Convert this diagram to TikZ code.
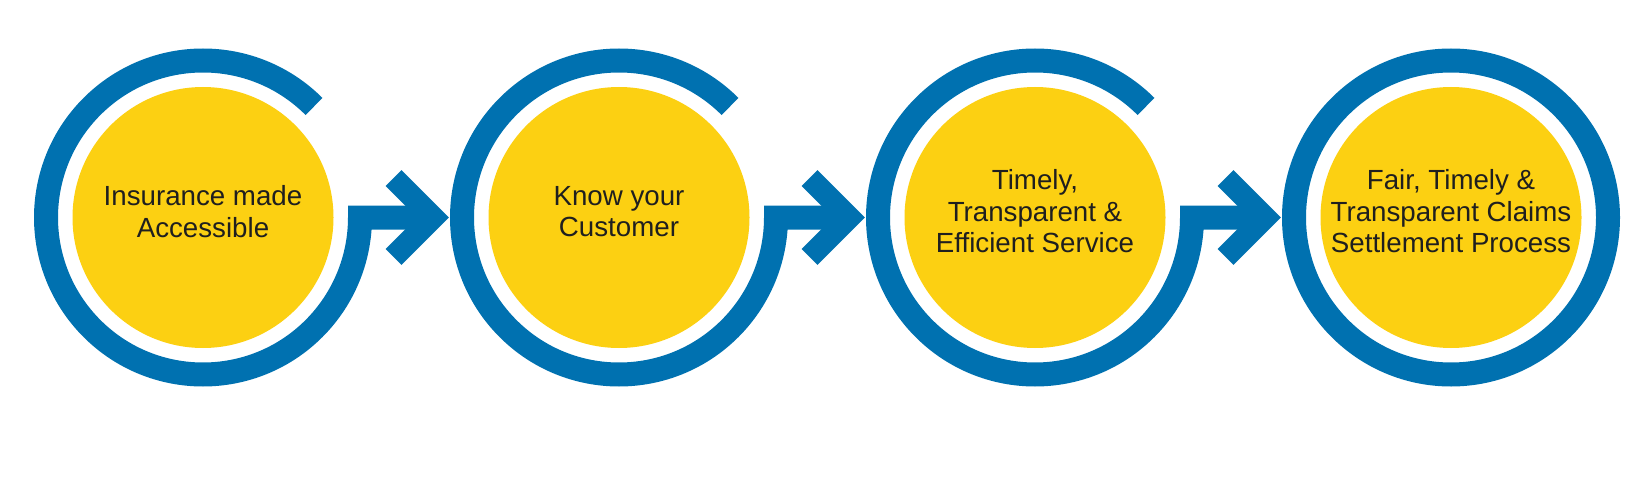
\documentclass[tikz,border=0pt]{standalone}
\usepackage{fontspec}
\setmainfont{Liberation Sans}
\usepackage{xcolor}
\usetikzlibrary{arrows.meta, positioning, calc}
\definecolor{ringblue}{HTML}{0071B0}
\definecolor{stageyellow}{HTML}{FCD012}
\definecolor{captiongray}{HTML}{1F1F1F}

\begin{document}
\begin{tikzpicture}[x=1pt, y=1pt,
    stage/.style={circle, fill=stageyellow, minimum size=261pt, inner sep=0pt},
    caption/.style={align=center, text=captiongray, font=\fontsize{27.7}{31.5}\selectfont, yshift=6pt},
    ring/.style={draw=ringblue, line width=24pt},
    chevron/.style={draw=ringblue, line width=22.5pt, miter limit=4}]
    \useasboundingbox (0,0) rectangle (1650,483);
    \node[stage] (s1) at (203,265.5) {};
    \node[stage, right=154.6pt of s1] (s2) {};
    \node[stage, right=154.6pt of s2] (s3) {};
    \node[stage, right=154.6pt of s3] (s4) {};
    \node[caption] (t1) at (s1) {Insurance made\\Accessible};
    \node[caption] (t2) at (s2) {Know your\\Customer};
    \node[caption] (t3) at (s3) {Timely,\\Transparent \&\\Efficient Service};
    \node[caption] (t4) at (s4) {Fair, Timely \&\\Transparent Claims\\Settlement Process};
    \draw[ring] ([shift={(45:157)}]s1.center) arc[start angle=45, end angle=360, radius=157] -- ([xshift=-190]s2.center);
    \draw[chevron] ([shift={(-225.5,39.5)}]s2.center) -- ([xshift=-186]s2.center) -- ([shift={(-225.5,-39.5)}]s2.center);
    \draw[ring] ([shift={(45:157)}]s2.center) arc[start angle=45, end angle=360, radius=157] -- ([xshift=-190]s3.center);
    \draw[chevron] ([shift={(-225.5,39.5)}]s3.center) -- ([xshift=-186]s3.center) -- ([shift={(-225.5,-39.5)}]s3.center);
    \draw[ring] ([shift={(45:157)}]s3.center) arc[start angle=45, end angle=360, radius=157] -- ([xshift=-190]s4.center);
    \draw[chevron] ([shift={(-225.5,39.5)}]s4.center) -- ([xshift=-186]s4.center) -- ([shift={(-225.5,-39.5)}]s4.center);
    \draw[ring] (s4.center) circle[radius=157];
\end{tikzpicture}
\end{document}
